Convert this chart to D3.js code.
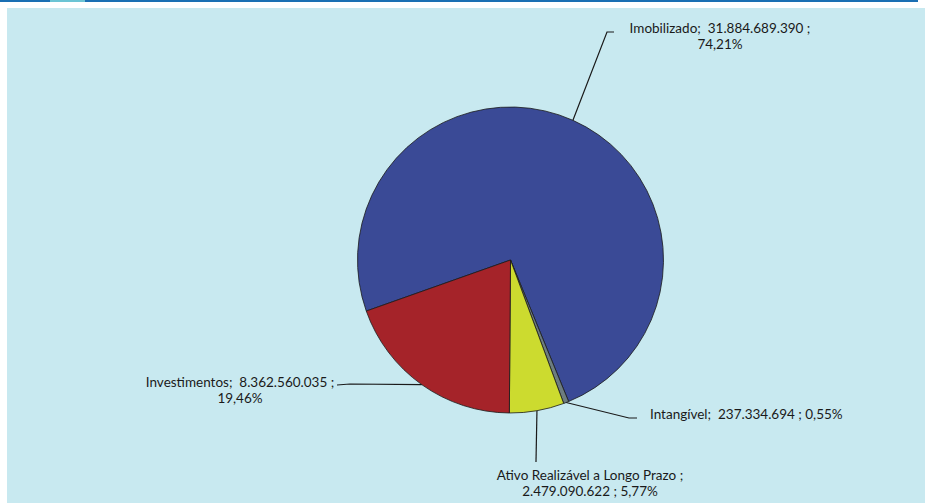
<!DOCTYPE html>
<html>
<head>
<meta charset="utf-8">
<script src="https://cdn.jsdelivr.net/npm/d3@7"></script>
<style>
  body { margin: 0; background: #fff; }
  text { font-family: Lato, "Open Sans", sans-serif; font-size: 13.5px; fill: #1a1a1a; white-space: pre; }
</style>
</head>
<body>
<script>
// chart data
var categories = ["Imobilizado", "Intangível", "Ativo Realizável a Longo Prazo", "Investimentos"]
var values = [31884689390, 237334694, 2479090622, 8362560035]
var percents = ["74,21%", "0,55%", "5,77%", "19,46%"]
var valueLabels = ["31.884.689.390", "237.334.694", "2.479.090.622", "8.362.560.035"]
var colors = ["#3a4a96", "#6d7d80", "#ccdb2f", "#a52329"]

// label layout (leader line bends and text lines)
var labelLayout = [
  { pts: [[607, 32], [614, 32]], x: 720, y: 28, anchor: "middle",
    lines: d => [d.cat + ";  " + d.val + " ;", d.pct] },
  { pts: [[629, 418], [637, 418]], x: 650, y: 414, anchor: "start",
    lines: d => [d.cat + ";  " + d.val + " ; " + d.pct] },
  { pts: [[536, 462]], x: 590, y: 475, anchor: "middle",
    lines: d => [d.cat + " ;", d.val + " ; " + d.pct] },
  { pts: [[350, 384], [337, 385]], x: 240, y: 382, anchor: "middle",
    lines: d => [d.cat + ";  " + d.val + " ;", d.pct] }
]

var width = 925, height = 503
var cx = 510.5, cy = 260, radius = 153

var svg = d3.select("body")
            .append("svg")
            .attr("width", width)
            .attr("height", height)

// frame
svg.append("rect").attr("x", 0).attr("y", 0).attr("width", 918).attr("height", 2).attr("fill", "#1a6fb3")
svg.append("rect").attr("x", 50).attr("y", 0).attr("width", 35).attr("height", 2).attr("fill", "#6cc4d4")
svg.append("rect").attr("x", 7).attr("y", 8).attr("width", width - 7).attr("height", height - 8).attr("fill", "#c8e9f0")

var startA = 250.5 * Math.PI / 180

var pie = d3.pie()
            .sort(null)
            .startAngle(startA)
            .endAngle(startA + 2 * Math.PI)
            .value(d => d)

var arcs = pie(values)

var arc = d3.arc().innerRadius(0).outerRadius(radius)
var edgeArc = d3.arc().innerRadius(radius).outerRadius(radius)

var g = svg.append("g").attr("transform", "translate(" + cx + "," + cy + ")")

g.selectAll(".slice")
 .data(arcs)
 .enter()
 .append("path")
 .attr("class", "slice")
 .attr("d", arc)
 .attr("fill", (d, i) => colors[i])
 .attr("stroke", "#1a1a1a")
 .attr("stroke-width", 0.8)
 .attr("stroke-linejoin", "round")

// leader lines
arcs.forEach(function (d, i) {
  var c = edgeArc.centroid(d)
  var pts = [[cx + c[0], cy + c[1]]].concat(labelLayout[i].pts)
  svg.append("path")
     .attr("d", d3.line()(pts))
     .attr("fill", "none")
     .attr("stroke", "#1a1a1a")
     .attr("stroke-width", 1.2)

  var info = { cat: categories[i], val: valueLabels[i], pct: percents[i] }
  var lay = labelLayout[i]
  var t = svg.append("text")
             .attr("text-anchor", lay.anchor)
  lay.lines(info).forEach(function (s, k) {
    t.append("tspan")
     .attr("x", lay.x)
     .attr("y", lay.y + k * 16.5)
     .attr("dy", "0.35em")
     .text(s)
  })
})
</script>
</body>
</html>
